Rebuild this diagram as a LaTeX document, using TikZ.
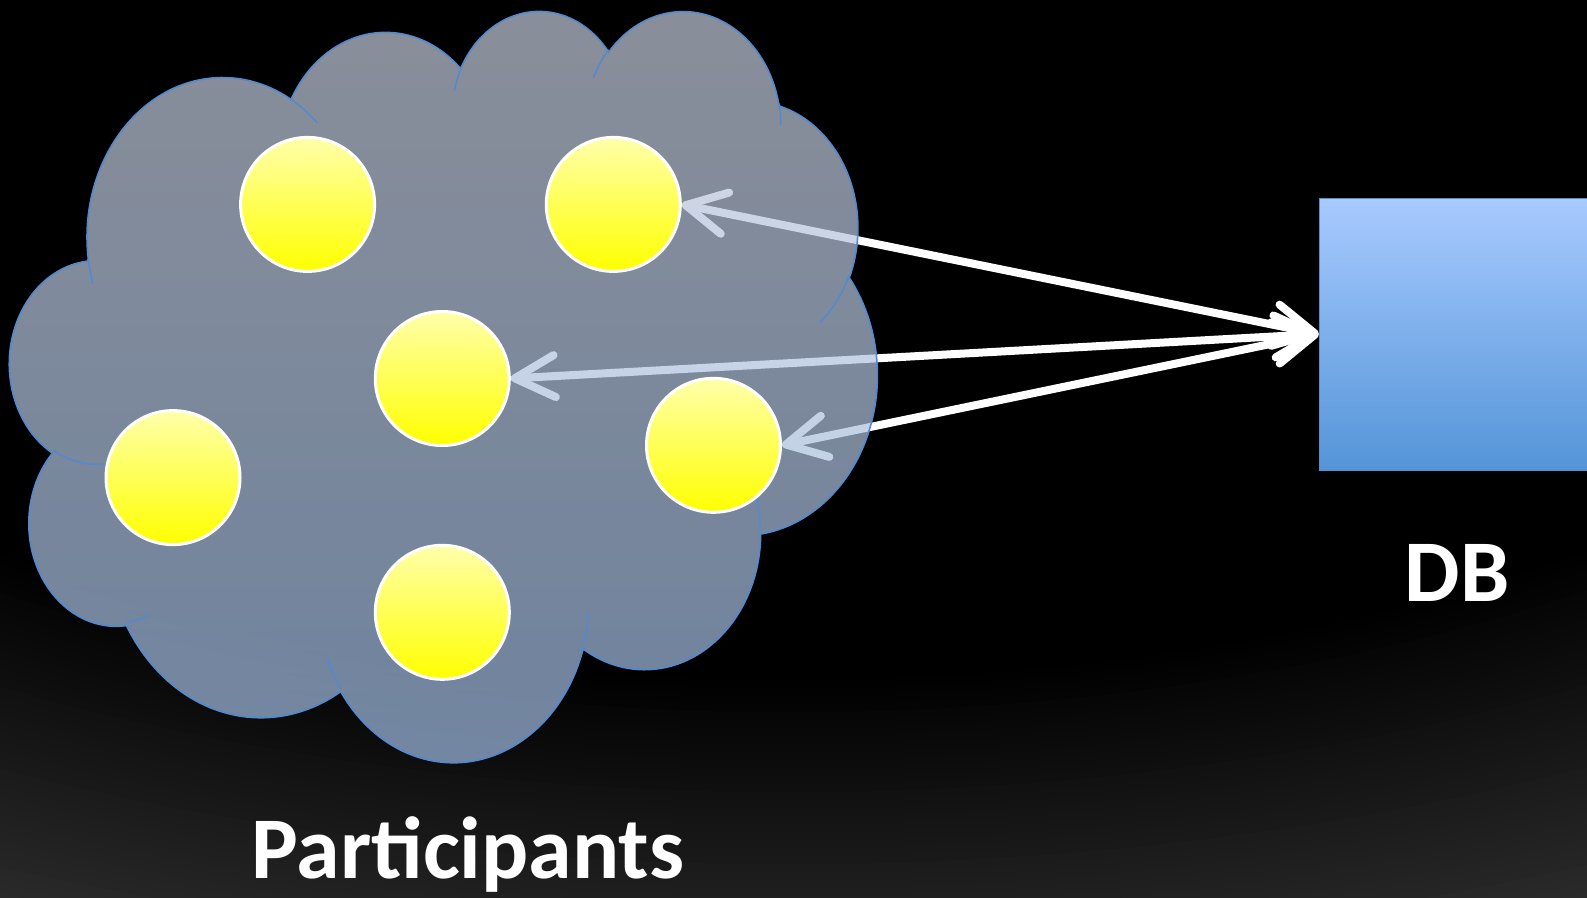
\documentclass[tikz,border=0pt]{standalone}
\usepackage{fontspec}
\setmainfont{Carlito}
\usetikzlibrary{arrows.meta}
\definecolor{bggray}{RGB}{44,44,44}
\definecolor{cloudtop}{RGB}{195,202,217}
\definecolor{cloudbot}{RGB}{156,184,224}
\definecolor{cloudline}{RGB}{84,138,205}
\definecolor{sunlight}{RGB}{255,255,170}
\definecolor{sundark}{RGB}{255,255,0}
\definecolor{dbtop}{RGB}{168,202,255}
\definecolor{dbbot}{RGB}{84,149,216}
\definecolor{dbline}{RGB}{90,140,200}
\pgfdeclarelayer{bglayer}
\pgfdeclarelayer{arrowlayer}
\pgfdeclarelayer{cloudlayer}
\pgfsetlayers{bglayer,arrowlayer,cloudlayer,main}
\newcommand\cldarc[5]{%
  \pgfmathsetmacro\cldtmpA{atan2((#2)*sin(#4),(#3)*cos(#4))}%
  \pgfmathsetmacro\cldtmpB{atan2((#2)*sin((#4)+(#5)),(#3)*cos((#4)+(#5)))}%
  \pgfmathsetmacro\cldtmpD{mod(\cldtmpB-\cldtmpA+720,360)}%
  \expandafter\xdef\csname cldS#1\endcsname{\cldtmpA}%
  \expandafter\xdef\csname cldD#1\endcsname{\cldtmpD}%
}
\tikzset{
  sun/.style={circle, minimum size=134pt, inner sep=0pt, draw=white, line width=3pt, top color=sunlight, bottom color=sundark},
  dbbox/.style={rectangle, minimum width=300pt, minimum height=272pt, inner sep=0pt, top color=dbtop, bottom color=dbbot, draw=dbline, line width=1pt},
  lbl/.style={text=white, font=\bfseries\fontsize{88pt}{100pt}\selectfont, inner sep=0pt},
  conn/.style={draw=white, line width=8pt, line cap=round, >={Straight Barb[length=40pt, width=42pt, line cap=round, line join=round]}, <->},
  cloudbody/.style={top color=cloudtop, bottom color=cloudbot, fill opacity=0.71, draw=cloudline, line width=1.6pt},
  cloudmark/.style={draw=cloudline, line width=1.6pt},
}
\begin{document}
\begin{tikzpicture}[x=1pt, y=-1pt]
\useasboundingbox (0,0) rectangle (1587,897);
% cloud arc parameters (wR, hR, start, sweep)
\cldarc{a}{67.53}{91.90}{-190.4875}{123.7805}
\cldarc{b}{53.33}{72.67}{-144.1024}{89.9452}
\cldarc{c}{43.65}{59.45}{-145.8079}{99.7230}
\cldarc{d}{48.57}{65.95}{-130.9861}{117.2417}
\cldarc{e}{53.33}{72.73}{-78.7089}{109.0269}
\cldarc{f}{67.75}{92.20}{-46.2673}{130.269}
\cldarc{g}{57.85}{78.67}{0.625}{114.0333}
\cldarc{h}{67.52}{92.15}{22.4516}{115.1726}
\cldarc{i}{77.20}{105.43}{66.2426}{75.7110}
\cldarc{j}{43.60}{59.18}{-274.9421}{146.7356}
\cldarc{k}{43.45}{59.45}{-246.8285}{152.5189}
\cldarc{l}{43.45}{59.45}{86.742}{26.4295}
\cldarc{m}{43.60}{59.18}{73.6105}{11.4475}
\cldarc{n}{67.52}{92.15}{137.624}{14.0811}
\cldarc{o}{67.52}{92.15}{6.4533}{15.9984}
\cldarc{p}{57.85}{78.67}{-70.2924}{70.9174}
\cldarc{q}{53.33}{72.73}{30.318}{27.7515}
\cldarc{r}{48.57}{65.95}{-13.7443}{14.8589}
\cldarc{s}{48.57}{65.95}{-149.1815}{18.1954}
\cldarc{t}{43.65}{59.45}{-163.4943}{17.6864}
\cldarc{u}{67.53}{91.90}{-66.707}{12.3194}
\cldarc{v}{67.53}{91.90}{157.6544}{11.8582}

% background: black with a soft grey glow towards the bottom
\begin{pgfonlayer}{bglayer}
  \begin{scope}
    \clip (0,0) rectangle (1587,897);
    \fill[bggray] (0,0) rectangle (1587,897);
    \foreach \k in {40,39,...,0} {
      \pgfmathsetmacro\rr{680+8*\k}
      \pgfmathsetmacro\rx{2*\rr}
      \pgfmathsetmacro\pp{2.5*\k}
      \fill[bggray!\pp!black] (790,0) ellipse[x radius=\rx, y radius=\rr];
    }
  \end{scope}
\end{pgfonlayer}

% participants
\node[sun] (c1) at (307.6,204.4) {};
\node[sun] (c2) at (613.3,204.4) {};
\node[sun] (c3) at (442.3,378.5) {};
\node[sun] (c4) at (173.0,477.6) {};
\node[sun] (c5) at (713.5,445.3) {};
\node[sun] (c6) at (442.3,612.3) {};

% database
\node[dbbox] (db) at (1469,334) {};

% labels
\node[lbl, anchor=base] (plabel) at (468,878) {Participants};
\node[lbl, anchor=base] (dblabel) at (1457,601) {DB};

% connectors
\begin{pgfonlayer}{arrowlayer}
  \draw[conn] (db.west) -- (c2.east);
  \draw[conn] (db.west) -- (c3.east);
  \draw[conn] (db.west) -- (c5.east);
\end{pgfonlayer}

% cloud
\begin{pgfonlayer}{cloudlayer}
\begin{scope}[shift={(10,9)}, x=2.007pt, y=-1.7384pt]
  \path[cloudbody] (39,143.7)
    arc[start angle=\cldSa, delta angle=\cldDa, x radius=67.53, y radius=91.90]
    arc[start angle=\cldSb, delta angle=\cldDb, x radius=53.33, y radius=72.67]
    arc[start angle=\cldSc, delta angle=\cldDc, x radius=43.65, y radius=59.45]
    arc[start angle=\cldSd, delta angle=\cldDd, x radius=48.57, y radius=65.95]
    arc[start angle=\cldSe, delta angle=\cldDe, x radius=53.33, y radius=72.73]
    arc[start angle=\cldSf, delta angle=\cldDf, x radius=67.75, y radius=92.20]
    arc[start angle=\cldSg, delta angle=\cldDg, x radius=57.85, y radius=78.67]
    arc[start angle=\cldSh, delta angle=\cldDh, x radius=67.52, y radius=92.15]
    arc[start angle=\cldSi, delta angle=\cldDi, x radius=77.20, y radius=105.43]
    arc[start angle=\cldSj, delta angle=\cldDj, x radius=43.60, y radius=59.18]
    arc[start angle=\cldSk, delta angle=\cldDk, x radius=43.45, y radius=59.45]
    -- cycle;
  \path[cloudmark]
    (46.93,261.77) arc[start angle=\cldSl, delta angle=\cldDl, x radius=43.45, y radius=59.45]
    (69.28,348.99) arc[start angle=\cldSm, delta angle=\cldDm, x radius=43.60, y radius=59.18]
    (164.78,390.90) arc[start angle=\cldSn, delta angle=\cldDn, x radius=67.52, y radius=92.15]
    (288.27,347.51) arc[start angle=\cldSo, delta angle=\cldDo, x radius=67.52, y radius=92.15]
    (341.29,229.54) arc[start angle=\cldSp, delta angle=\cldDp, x radius=57.85, y radius=78.67]
    (417.98,153.54) arc[start angle=\cldSq, delta angle=\cldDq, x radius=53.33, y radius=72.73]
    (383.24,54.26) arc[start angle=\cldSr, delta angle=\cldDr, x radius=48.57, y radius=65.95]
    (290.78,39.52) arc[start angle=\cldSs, delta angle=\cldDs, x radius=48.57, y radius=65.95]
    (221.41,47.20) arc[start angle=\cldSt, delta angle=\cldDt, x radius=43.65, y radius=59.45]
    (140.00,51.92) arc[start angle=\cldSu, delta angle=\cldDu, x radius=67.53, y radius=91.90]
    (41.27,157.89) arc[start angle=\cldSv, delta angle=\cldDv, x radius=67.53, y radius=91.90];
\end{scope}
\end{pgfonlayer}
\end{tikzpicture}
\end{document}
